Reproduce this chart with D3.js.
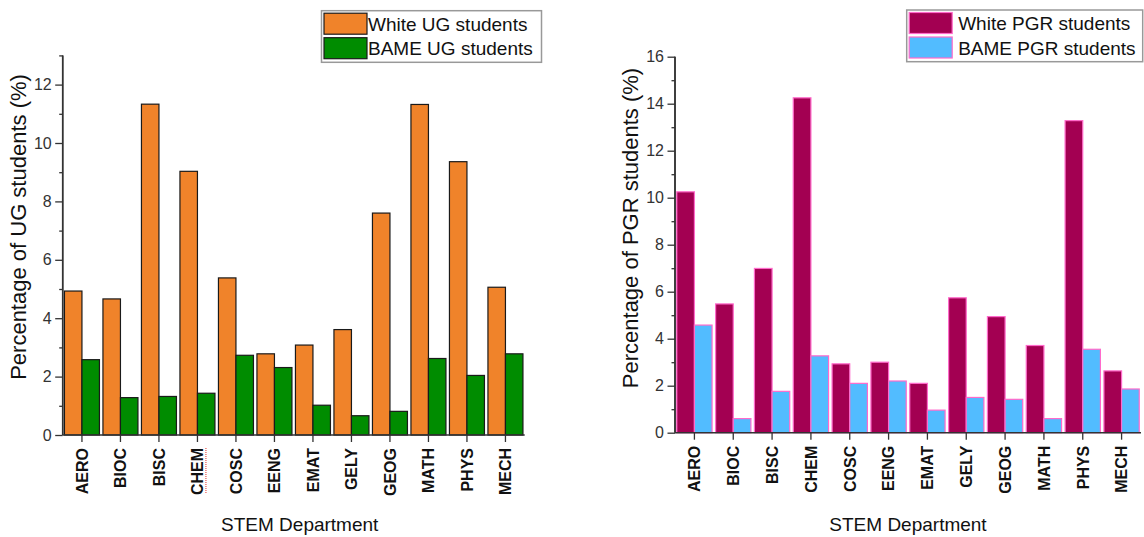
<!DOCTYPE html>
<html>
<head>
<meta charset="utf-8">
<script src="https://cdn.jsdelivr.net/npm/d3@7"></script>
<style>
  html, body { margin: 0; padding: 0; background: #fff; }
  svg { display: block; font-family: Arial, "Liberation Sans", sans-serif; }
</style>
</head>
<body>
<svg id="chart" width="1144" height="537"></svg>
<script>
// STEM departments (shared by both panels)
const departments = ["AERO", "BIOC", "BISC", "CHEM", "COSC", "EENG", "EMAT", "GELY", "GEOG", "MATH", "PHYS", "MECH"];

// Undergraduate shares (%)
const whiteUG = [4.93, 4.66, 11.33, 9.03, 5.38, 2.78, 3.08, 3.61, 7.60, 11.32, 9.36, 5.06];
const bameUG  = [2.58, 1.28, 1.32, 1.43, 2.73, 2.31, 1.02, 0.66, 0.81, 2.62, 2.04, 2.78];

// Postgraduate research shares (%)
const whitePGR = [10.25, 5.48, 6.99, 14.25, 2.93, 3.00, 2.10, 5.74, 4.94, 3.71, 13.28, 2.63];
const bamePGR  = [4.58, 0.60, 1.76, 3.27, 2.10, 2.20, 0.96, 1.50, 1.42, 0.60, 3.55, 1.86];

// Axis tick labels
const ugTicks  = [0, 2, 4, 6, 8, 10, 12];
const pgrTicks = [0, 2, 4, 6, 8, 10, 12, 14, 16];

// Series names
const ugSeries  = ["White UG students", "BAME UG students"];
const pgrSeries = ["White PGR students", "BAME PGR students"];

const svg = d3.select("#chart");

function drawPanel(cfg) {
  const g = svg.append("g");
  const x = d3.scaleBand().domain(departments).range([cfg.left, cfg.right]).paddingInner(0).paddingOuter(0);
  const inner = d3.scaleBand().domain([0, 1]).range([0, x.bandwidth()]).paddingOuter(0.1).paddingInner(0);
  const y = d3.scaleLinear().domain([0, cfg.yMax]).range([cfg.bottom, cfg.top]);

  const rows = departments.map((d, i) => ({ dept: d, values: [cfg.series[0][i], cfg.series[1][i]] }));

  // bars
  const grp = g.selectAll("g.dept").data(rows).join("g")
    .attr("transform", d => `translate(${x(d.dept)},0)`);
  grp.selectAll("rect").data(d => d.values.map((v, k) => ({ v, k }))).join("rect")
    .attr("x", d => inner(d.k))
    .attr("width", inner.bandwidth())
    .attr("y", d => y(d.v))
    .attr("height", d => y(0) - y(d.v))
    .attr("fill", d => cfg.colors[d.k])
    .attr("stroke", cfg.stroke)
    .attr("stroke-width", 1.2);

  // y axis: major ticks with labels, minor ticks at odd values
  const minor = d3.range(1, cfg.yMax + 1, 2).filter(v => v <= cfg.yMax);
  const yMinor = g.append("g").attr("transform", `translate(${cfg.left},0)`)
    .call(d3.axisLeft(y).tickValues(minor).tickSize(3.5).tickFormat(""));
  const yAxis = g.append("g").attr("transform", `translate(${cfg.left},0)`)
    .call(d3.axisLeft(y).tickValues(cfg.ticks).tickSize(7.5).tickPadding(3.5).tickFormat(d3.format("d")));
  [yMinor, yAxis].forEach(a => {
    a.select(".domain").attr("stroke", "#333").attr("stroke-width", 1.5).attr("d", `M0,${cfg.bottom}V${cfg.top}`);
    a.selectAll(".tick line").attr("stroke", "#333").attr("stroke-width", 1.3);
  });
  yAxis.selectAll(".tick text").attr("fill", "#333").style("font-size", "16px");

  // x axis
  const xAxis = g.append("g").attr("transform", `translate(0,${cfg.bottom})`)
    .call(d3.axisBottom(x).tickSize(7).tickFormat(""));
  xAxis.select(".domain").attr("stroke", "#333").attr("stroke-width", 1.5)
    .attr("d", `M${cfg.left},0H${cfg.right}`);
  xAxis.selectAll(".tick line").attr("stroke", "#333").attr("stroke-width", 1.3);
  xAxis.selectAll(".tick").append("text")
    .attr("transform", "translate(0,13) rotate(-90)")
    .attr("text-anchor", "end")
    .attr("dy", "0.36em")
    .attr("fill", "#111")
    .style("font-size", "16px")
    .style("font-weight", "bold")
    .text(d => d);

  // axis titles
  g.append("text")
    .attr("x", (cfg.left + cfg.right) / 2 + cfg.titleShift)
    .attr("y", 531)
    .attr("text-anchor", "middle")
    .attr("fill", "#111")
    .style("font-size", "19px")
    .text("STEM Department");
  g.append("text")
    .attr("transform", `translate(${cfg.yTitleX},${cfg.yTitleY}) rotate(-90)`)
    .attr("text-anchor", "middle")
    .attr("fill", "#111")
    .style("font-size", "22px")
    .text(cfg.yTitle);

  // legend
  const L = cfg.legend;
  g.append("rect")
    .attr("x", L.x).attr("y", L.y).attr("width", L.w).attr("height", L.h)
    .attr("fill", "#fff").attr("stroke", "#999").attr("stroke-width", 1.5);
  cfg.names.forEach((name, k) => {
    const ry = L.y + 2.5 + k * 24.5;
    g.append("rect")
      .attr("x", L.x + 2.5).attr("y", ry).attr("width", 43).attr("height", 21)
      .attr("fill", cfg.colors[k]).attr("stroke", cfg.stroke).attr("stroke-width", 1.2);
    g.append("text")
      .attr("x", L.x + L.textDx).attr("y", ry + 17.5)
      .attr("fill", "#111")
      .style("font-size", "19px")
      .text(name);
  });
  return { x, xAxis };
}

const ug = drawPanel({
  left: 62.7, right: 524.7, top: 435 - 13 * 29.2, bottom: 435, yMax: 13,
  ticks: ugTicks, series: [whiteUG, bameUG], names: ugSeries,
  colors: ["#F0832A", "#008C00"], stroke: "#1a1a1a",
  yTitle: "Percentage of UG students (%)", yTitleX: 26, yTitleY: 227, titleShift: 6,
  legend: { x: 321.5, y: 10.7, w: 220, h: 51.6, textDx: 46.5 }
});

const pgr = drawPanel({
  left: 675, right: 1141, top: 56.7, bottom: 432.7, yMax: 16,
  ticks: pgrTicks, series: [whitePGR, bamePGR], names: pgrSeries,
  colors: ["#A30052", "#52BCFF"], stroke: "#FF6ACB",
  yTitle: "Percentage of PGR students (%)", yTitleX: 638, yTitleY: 228, titleShift: 0,
  legend: { x: 906.7, y: 10, w: 236, h: 51.7, textDx: 51.5 }
});

// spell-check style dotted underline beside the CHEM label
const chemX = ug.x("CHEM") + ug.x.bandwidth() / 2;
svg.append("line")
  .attr("x1", chemX + 8.5).attr("x2", chemX + 8.5)
  .attr("y1", 448).attr("y2", 494)
  .attr("stroke", "#e0302a").attr("stroke-width", 1)
  .attr("stroke-dasharray", "1,1");
</script>
</body>
</html>
